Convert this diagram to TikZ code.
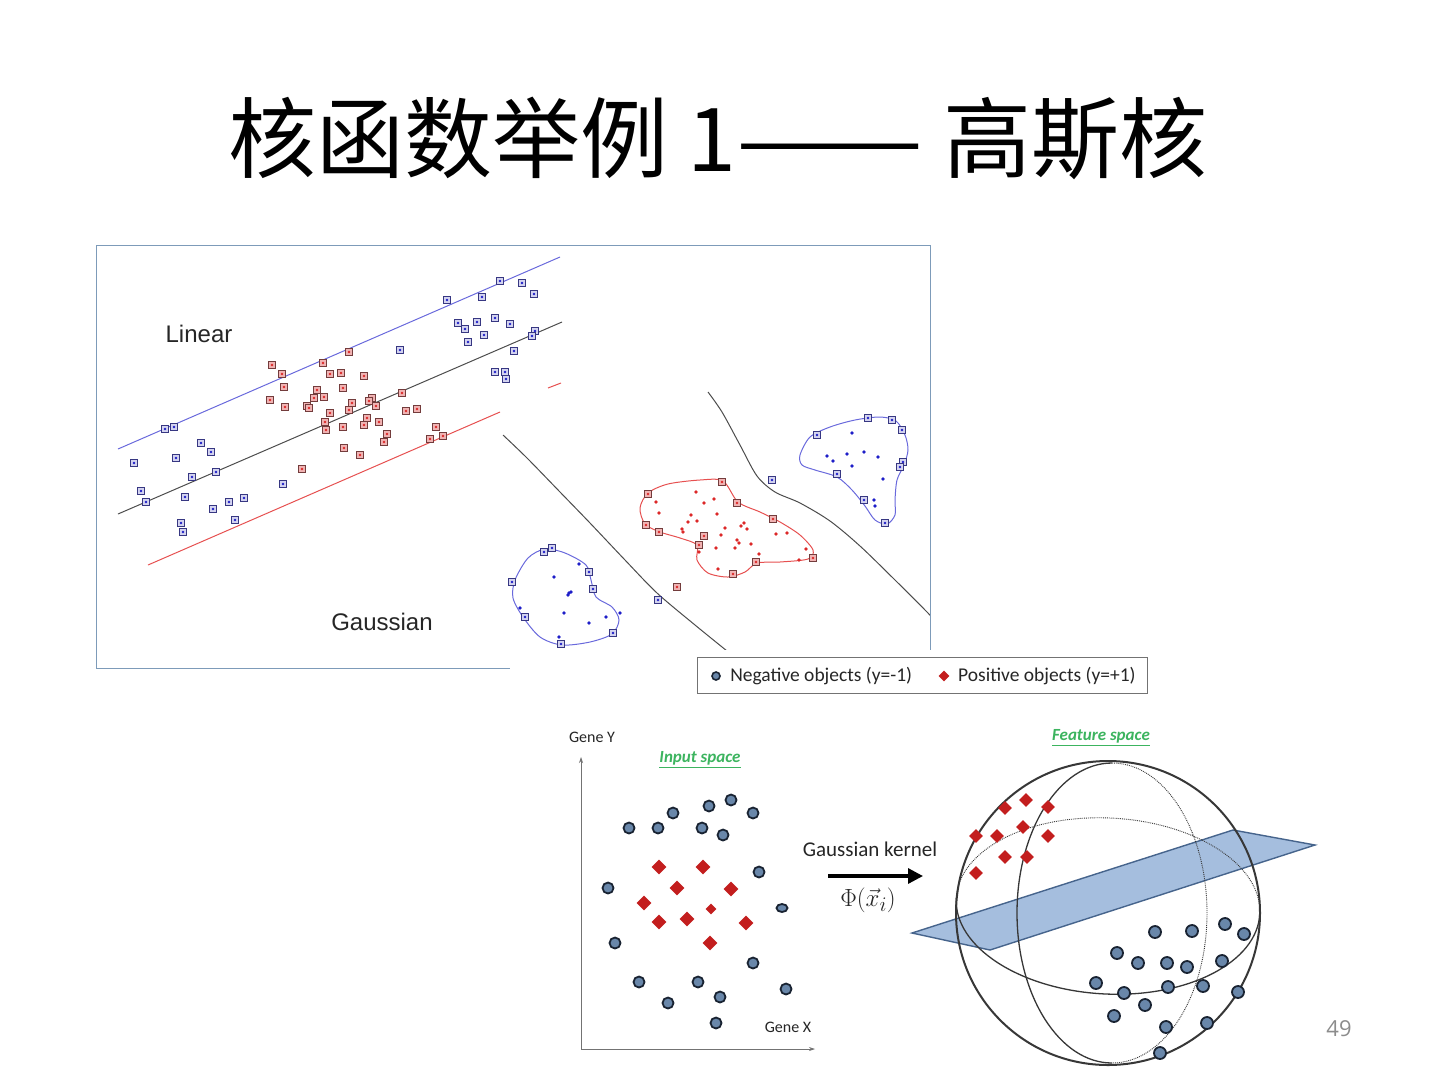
\documentclass[tikz,border=0pt]{standalone}
\usepackage{fontspec}
\usepackage{amsmath}
\newfontfamily\cjkfont{Noto Sans CJK SC}
\newfontfamily\arialfont{Liberation Sans}
\newfontfamily\calfont{Carlito}
\newfontfamily\pagefont{Open Sans}
\usetikzlibrary{arrows.meta,shapes.geometric,positioning}
\definecolor{cFrame}{RGB}{125,155,185}
\definecolor{cBlueLine}{RGB}{105,105,220}
\definecolor{cRedLine}{RGB}{230,80,80}
\definecolor{cSqBlue}{RGB}{212,212,240}
\definecolor{cSqBlueEdge}{RGB}{55,55,130}
\definecolor{cSqRed}{RGB}{240,180,180}
\definecolor{cSqRedEdge}{RGB}{115,60,60}
\definecolor{cDotBlue}{RGB}{30,30,200}
\definecolor{cDotRed}{RGB}{220,40,40}
\definecolor{cNeg}{RGB}{105,135,170}
\definecolor{cNegEdge}{RGB}{25,35,50}
\definecolor{cPos}{RGB}{195,30,30}
\definecolor{cPlane}{RGB}{165,190,222}
\definecolor{cPlaneEdge}{RGB}{70,100,140}
\definecolor{cGreenTxt}{RGB}{60,180,95}
\definecolor{cSphere}{RGB}{55,55,55}
\tikzset{
  sqblue/.style={rectangle,draw=cSqBlueEdge,fill=cSqBlue,line width=0.8pt,
                 minimum size=7.5pt,inner sep=0pt,
                 path picture={\fill[cDotBlue] (path picture bounding box.center) circle (1.3pt);}},
  sqred/.style={rectangle,draw=cSqRedEdge,fill=cSqRed,line width=0.8pt,
                minimum size=7.5pt,inner sep=0pt,
                path picture={\fill[cDotRed] (path picture bounding box.center) circle (1.3pt);}},
  dotblue/.style={circle,fill=cDotBlue,minimum size=3.8pt,inner sep=0pt},
  dotred/.style={circle,fill=cDotRed,minimum size=3.8pt,inner sep=0pt},
  negpt/.style={circle,draw=cNegEdge,fill=cNeg,line width=1.8pt,
                minimum size=11pt,inner sep=0pt},
  pospt/.style={diamond,fill=cPos,minimum size=15pt,inner sep=0pt},
  sepline/.style={black!70,line width=1pt},
  blobline/.style={line width=1pt},
  sphline/.style={cSphere,line width=1.3pt},
  backline/.style={cSphere,line width=0.9pt,densely dotted},
  axisarr/.style={-{Stealth[length=6pt,width=4pt]},black!55,line width=0.7pt},
  kernarr/.style={-{Triangle[length=15pt,width=15pt]},black,line width=3.2pt},
  plotlbl/.style={font=\arialfont\fontsize{24}{26}\selectfont,text=black!85},
  smalllbl/.style={font=\calfont\fontsize{16}{18}\selectfont,text=black!85},
  legendlbl/.style={font=\calfont\fontsize{19.5}{21}\selectfont,text=black!85},
  spacelbl/.style={font=\calfont\bfseries\itshape\fontsize{17}{19}\selectfont,text=cGreenTxt}
}

\begin{document}
\begin{tikzpicture}[x=1pt,y=-1pt]
  \useasboundingbox (0,0) rectangle (1440,1080);

  % title
  \node[font=\cjkfont\fontsize{88}{90}\selectfont] (title) at (718,138)
      {核函数举例 1\scalebox{1.27}[1]{——} 高斯核};

  % upper plot: linear vs gaussian
  \begin{scope}
    \clip (96,245) rectangle (930,668);
    \draw[cBlueLine,line width=1pt] (118,449) -- (560,257);
    \draw[sepline] (118,514) -- (562,322);
    \draw[cRedLine,line width=1pt] (148,565) -- (500,412);
    \draw[cRedLine,line width=1pt] (548,388) -- (561,383);
    \draw[sepline] plot[smooth] coordinates {(503,435) (527,458) (560,492) (590,523)
        (625,560) (657,593) (695,625) (732,655)};
    \draw[sepline] plot[smooth] coordinates {(708,392) (722,412) (740,445) (757,476)
        (775,492) (800,503) (830,521) (860,546) (895,580) (927,612) (940,626)};
    % blobs
    \draw[blobline,cBlueLine] plot[smooth cycle] coordinates {(515,580) (528,558)
        (545,549) (565,553) (586,565) (591,580) (596,597) (612,607) (619,620)
        (612,634) (590,642) (562,645) (540,637) (523,617) (513,598)};
    \draw[blobline,cRedLine] plot[smooth cycle] coordinates {(640,508) (648,493)
        (668,484) (700,480) (723,481) (738,502) (760,512) (780,522) (800,535)
        (813,550) (808,559) (780,562) (757,563) (745,572) (728,577) (708,573)
        (697,560) (697,545) (680,538) (660,532) (645,524)};
    \draw[blobline,cBlueLine] plot[smooth cycle] coordinates {(800,455) (810,437)
        (830,427) (855,420) (880,417) (896,421) (905,435) (908,450) (904,465)
        (897,480) (895,500) (895,515) (887,524) (875,520) (865,506) (852,490)
        (837,477) (815,470) (802,465)};

    % blue squares
    \foreach \px/\py [count=\i] in {500/281,522/283,534/294,447/300,482/297,
        458/323,465/329,477/322,495/318,510/324,484/335,468/342,535/331,532/336,
        514/351,400/350,495/372,505/372,506/379,165/429,174/427,201/443,211/452,
        176/458,134/463,192/477,216/472,141/491,146/502,185/497,213/509,229/502,
        244/498,235/520,181/523,183/532,283/484,
        817/435,868/418,892/420,902/430,903/462,900/467,837/474,864/500,885/523,
        772/480,544/552,552/548,512/582,589/572,593/589,525/617,613/633,561/644,
        658/600}
      \node[sqblue] (sb\i) at (\px,\py) {};
    % red squares
    \foreach \px/\py [count=\i] in {272/365,282/374,284/387,270/400,285/407,
        323/363,349/352,330/374,341/373,364/376,317/390,324/397,314/398,343/388,
        307/406,309/408,352/403,349/410,372/398,369/401,376/406,402/393,406/411,
        417/409,330/413,325/422,326/430,343/427,367/418,364/425,379/422,387/434,
        384/442,344/448,360/455,302/469,436/427,430/439,443/436,
        648/494,722/482,737/503,773/519,813/558,756/562,733/574,704/536,699/545,
        659/532,646/525,677/587}
      \node[sqred] (sr\i) at (\px,\py) {};
    % plain dots
    \foreach \px/\py [count=\i] in {852/433,827/456,833/461,847/454,864/452,
        878/457,852/466,883/479,874/500,875/506,579/564,554/577,569/593,568/595,
        571/592,564/613,589/623,606/617,520/608,620/613,559/637}
      \node[dotblue] (db\i) at (\px,\py) {};
    \foreach \px/\py [count=\i] in {656/502,659/513,696/492,704/503,714/499,
        717/514,691/515,688/522,697/521,682/529,683/532,725/528,721/535,741/526,
        744/523,747/529,737/540,739/543,735/548,716/548,751/544,759/554,776/534,
        787/533,806/549,799/560,718/569,699/552}
      \node[dotred] (dr\i) at (\px,\py) {};

    \node[plotlbl] (linear) at (199,334) {Linear};
    \node[plotlbl] (gauss) at (382,622) {Gaussian};
  \end{scope}
  \draw[cFrame,line width=1pt] (96,245) rectangle (930,668);

  % lower picture: input and feature space
  \fill[white] (510,650) rectangle (1362,1064);

  \node[draw=black!55,line width=0.8pt,minimum width=450pt,minimum height=36pt,
        inner sep=0pt] (legend) at (922,675) {};
  \node[negpt,minimum size=8pt,line width=1.6pt] (lgneg) at (716,676) {};
  \node[legendlbl,anchor=west,right=6pt of lgneg] (lgnegtxt)
      {Negative objects (y=-1)};
  \node[pospt,minimum size=11pt] (lgpos) at (944,676) {};
  \node[legendlbl,anchor=west,right=5pt of lgpos] (lgpostxt)
      {Positive objects (y=+1)};

  % input space
  \coordinate (origin) at (581,1049);
  \coordinate (ytip) at (581,757);
  \coordinate (xtip) at (815,1049);
  \draw[axisarr] (origin) -- (ytip);
  \draw[axisarr] (origin) -- (xtip);
  \node[smalllbl] (geney) at (592,737) {Gene Y};
  \node[smalllbl] (genex) at (788,1027) {Gene X};
  \node[spacelbl] (inlbl) at (700,760) {\underline{Input space}};

  \foreach \px/\py [count=\i] in {629/828,658/828,673/813,709/806,731/800,
      753/813,702/828,723/835,759/872,608/888,615/943,753/963,639/982,
      698/982,720/997,786/989,668/1003,716/1023}
    \node[negpt] (in\i) at (\px,\py) {};
  \node[negpt,minimum width=11pt,minimum height=8pt,ellipse] (inflat) at (782,908) {};
  \foreach \px/\py [count=\i] in {659/867,703/867,677/888,731/889,644/903,
      659/922,687/919,746/923,710/943}
    \node[pospt] (ip\i) at (\px,\py) {};
  \node[pospt,minimum size=11pt] (ipsmall) at (711,909) {};

  % kernel arrow
  \node[smalllbl,font=\calfont\fontsize{21}{23}\selectfont] (kern) at (870,849)
      {Gaussian kernel};
  \coordinate (kstart) at (828,876);
  \coordinate (kend) at (923,876);
  \draw[kernarr] (kstart) -- (kend);
  \node[font=\fontsize{28}{30}\selectfont,text=black!85,inner sep=1pt] (phi)
      at (868,900) {$\Phi(\vec{x}_i)$};

  % feature space
  \node[spacelbl] (ftlbl) at (1101,738) {\underline{Feature space}};
  \coordinate (ctr) at (1108,913);
  \filldraw[fill=cPlane,draw=cPlaneEdge,line width=1.4pt]
      (912,933) -- (1233,830) -- (1315,845) -- (990,950) -- cycle;
  \draw[backline] (1112,913) ++(0,-150) arc[start angle=-90,end angle=90,
      x radius=95,y radius=150];
  \draw[sphline] (1112,913) ++(0,-150) arc[start angle=270,end angle=90,
      x radius=95,y radius=150];
  \begin{scope}[rotate around={-3:(1108,906)}]
    \draw[backline] (1108,906) ++(-152,0) arc[start angle=180,end angle=360,
        x radius=152,y radius=88];
    \draw[sphline] (1108,906) ++(-152,0) arc[start angle=180,end angle=0,
        x radius=152,y radius=88];
  \end{scope}
  \draw[cSphere,line width=2pt] (ctr) circle[radius=152];

  \foreach \px/\py [count=\i] in {1005/808,1026/800,1048/807,976/836,997/836,
      1023/827,1048/836,1005/857,1027/857,976/873}
    \node[pospt,minimum size=14pt] (fp\i) at (\px,\py) {};
  \foreach \px/\py [count=\i] in {1155/932,1192/931,1225/924,1244/934,
      1117/953,1138/963,1167/963,1187/967,1222/961,1096/983,1124/993,
      1168/987,1203/986,1238/992,1145/1005,1114/1016,1166/1027,1207/1023,
      1160/1053}
    \node[negpt,minimum size=12pt] (fn\i) at (\px,\py) {};

  % page number
  \node[font=\pagefont\fontsize{22}{24}\selectfont,text=black!45] (pgnum)
      at (1339,1029) {49};
\end{tikzpicture}
\end{document}
